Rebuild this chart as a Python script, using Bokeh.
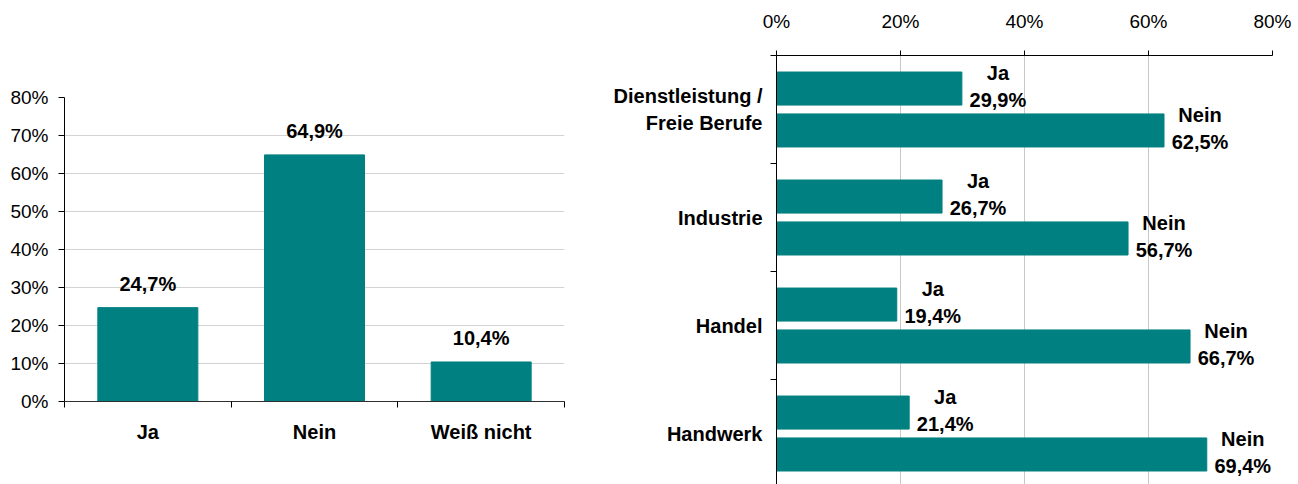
from bokeh.plotting import figure
from bokeh.models import Range1d, FixedTicker, PrintfTickFormatter, ColumnDataSource
from bokeh.layouts import row
from bokeh.embed import file_html
from bokeh.resources import INLINE
from bokeh.core.properties import value
import numpy as np

# ---- data ----
answers = ["Ja", "Nein", "Weiß nicht"]
total_pct = [24.7, 64.9, 10.4]

sectors = ["Dienstleistung /\nFreie Berufe", "Industrie", "Handel", "Handwerk"]
series_names = ["Ja", "Nein"]
ja_pct = [29.9, 26.7, 19.4, 21.4]
nein_pct = [62.5, 56.7, 66.7, 69.4]

left_ticks = list(range(0, 81, 10))
right_ticks = list(range(0, 81, 20))

TEAL = "#008080"
FONT = "Liberation Sans"
GRID = "#d3d3d3"


def de(v):
    return f"{v:.1f}".replace(".", ",") + "%"


# ---- left chart ----
p1 = figure(width=588, height=484, x_range=Range1d(0, len(answers)), y_range=Range1d(0, 80),
            output_backend="svg", toolbar_location=None,
            min_border_left=64, min_border_right=24, min_border_top=97, min_border_bottom=83)
p1.outline_line_color = None
p1.frame_align = False
xs = np.arange(len(answers)) + 0.5
src1 = ColumnDataSource(dict(x=xs, top=total_pct, label=[de(v) for v in total_pct]))
p1.vbar(x="x", top="top", bottom=0, width=0.6, source=src1, fill_color=TEAL, line_color=TEAL)
p1.text(x="x", y="top", text="label", source=src1, text_align="center", text_baseline="middle",
        y_offset=-24, text_font=value(FONT), text_font_style="bold", text_font_size="20px",
        text_color="black")

p1.xgrid.visible = False
p1.ygrid.ticker = FixedTicker(ticks=left_ticks)
p1.ygrid.grid_line_color = GRID

ya = p1.yaxis[0]
ya.ticker = FixedTicker(ticks=left_ticks)
ya.formatter = PrintfTickFormatter(format="%d%%")
ya.major_tick_out = 6
ya.major_tick_in = 0
ya.major_tick_line_color = "black"
ya.minor_tick_line_color = None
ya.axis_line_color = "black"
ya.major_label_standoff = 10
ya.major_label_text_font = FONT
ya.major_label_text_font_size = "19px"
ya.major_label_text_color = "black"

xa = p1.xaxis[0]
xa.ticker = FixedTicker(ticks=list(xs), minor_ticks=list(range(0, len(answers) + 1)))
xa.major_label_overrides = {float(x): a for x, a in zip(xs, answers)}
xa.major_tick_out = 6
xa.major_tick_in = 0
xa.major_tick_line_color = None
xa.minor_tick_out = 6
xa.minor_tick_in = 0
xa.minor_tick_line_color = "black"
xa.axis_line_color = "#303030"
xa.major_label_standoff = 13
xa.major_label_text_font = FONT
xa.major_label_text_font_style = "bold"
xa.major_label_text_font_size = "20px"
xa.major_label_text_color = "black"

# ---- right chart ----
n = len(sectors)
p2 = figure(width=710, height=484, x_range=Range1d(0, 80), y_range=Range1d(3.972, 0),
            x_axis_location="above", output_backend="svg", toolbar_location=None,
            min_border_left=188, min_border_right=26, min_border_top=55, min_border_bottom=0)
p2.outline_line_color = None
p2.frame_align = False
base = np.arange(n)
bar_h = 0.306
src_ja = ColumnDataSource(dict(y=base + 0.306, right=ja_pct, name=[series_names[0]] * n,
                               label=[de(v) for v in ja_pct]))
src_nein = ColumnDataSource(dict(y=base + 0.694, right=nein_pct, name=[series_names[1]] * n,
                                 label=[de(v) for v in nein_pct]))
for src in (src_ja, src_nein):
    p2.hbar(y="y", right="right", left=0, height=bar_h, source=src, fill_color=TEAL, line_color=TEAL)
    p2.text(x="right", y="y", text="name", source=src, x_offset=36, y_offset=-15.5,
            text_align="center", text_baseline="middle", text_font=value(FONT),
            text_font_style="bold", text_font_size="20px", text_color="black")
    p2.text(x="right", y="y", text="label", source=src, x_offset=36, y_offset=11.5,
            text_align="center", text_baseline="middle", text_font=value(FONT),
            text_font_style="bold", text_font_size="20px", text_color="black")

p2.ygrid.visible = False
p2.xgrid.ticker = FixedTicker(ticks=right_ticks)
p2.xgrid.grid_line_color = "#c8c8c8"

xa2 = p2.xaxis[0]
xa2.ticker = FixedTicker(ticks=right_ticks)
xa2.formatter = PrintfTickFormatter(format="%d%%")
xa2.major_tick_out = 5
xa2.major_tick_in = 0
xa2.major_tick_line_color = "black"
xa2.axis_line_color = "black"
xa2.major_label_standoff = 19
xa2.major_label_text_font = FONT
xa2.major_label_text_font_size = "19px"
xa2.major_label_text_color = "black"

ya2 = p2.yaxis[0]
centers = base + 0.5
ya2.ticker = FixedTicker(ticks=list(centers), minor_ticks=list(range(0, n + 1)))
ya2.major_label_overrides = {float(c): s for c, s in zip(centers, sectors)}
ya2.major_tick_out = 6
ya2.major_tick_in = 0
ya2.major_tick_line_color = None
ya2.minor_tick_out = 6
ya2.minor_tick_in = 0
ya2.minor_tick_line_color = "black"
ya2.axis_line_color = "black"
ya2.major_label_standoff = 8
ya2.major_label_text_font = FONT
ya2.major_label_text_font_style = "bold"
ya2.major_label_text_font_size = "20px"
ya2.major_label_text_color = "black"

layout = row(p1, p2)
open("out.html", "w").write(file_html(layout, INLINE))
